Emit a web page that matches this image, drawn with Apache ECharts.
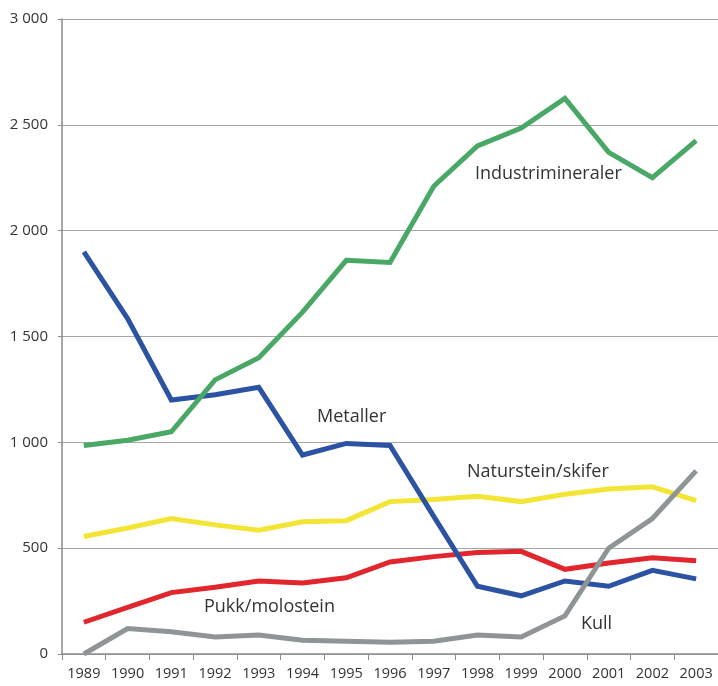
<!DOCTYPE html>
<html>
<head>
<meta charset="utf-8">
<script src="https://cdn.jsdelivr.net/npm/echarts@6/dist/echarts.min.js"></script>
<style>
  html, body { margin: 0; padding: 0; background: #fff; }
  #chart { width: 718px; height: 686px; }
</style>
</head>
<body>
<div id="chart"></div>
<script>
// år
const years = ['1989', '1990', '1991', '1992', '1993', '1994', '1995', '1996',
  '1997', '1998', '1999', '2000', '2001', '2002', '2003']

// verdier per gruppe
const industrimineraler = [985, 1010, 1050, 1295, 1400, 1615, 1860, 1850, 2210, 2400, 2485, 2625, 2370, 2250, 2425]
const metaller = [1900, 1585, 1200, 1225, 1260, 940, 995, 985, 650, 320, 275, 345, 320, 395, 355]
const naturstein = [555, 595, 640, 610, 585, 625, 630, 720, 730, 745, 720, 755, 780, 790, 725]
const pukk = [150, 220, 290, 315, 345, 335, 360, 435, 460, 480, 485, 400, 430, 455, 440]
const kull = [0, 120, 105, 80, 90, 65, 60, 55, 60, 90, 80, 180, 500, 640, 865]

const yTicks = [0, 500, 1000, 1500, 2000, 2500, 3000]

const font = '"Open Sans", "Noto Sans", sans-serif'

const lineSeries = (name, data, color) => ({
  name,
  type: 'line',
  data,
  symbol: 'none',
  lineStyle: { color, width: 5, join: 'miter' },
  itemStyle: { color },
  animation: false
})

// etiketter i plottet
const label = (text, x, y) => ({
  type: 'text',
  x,
  y,
  style: { text, fill: '#333', font: '18px ' + font, verticalAlign: 'middle' }
})

const chart = echarts.init(document.getElementById('chart'))

chart.setOption({
  animation: false,
  grid: { left: 62, top: 19, width: 660, bottom: 32 },
  xAxis: {
    type: 'category',
    data: years,
    boundaryGap: true,
    axisLine: { lineStyle: { color: '#8c8c8c', width: 1.5 } },
    axisTick: { show: true, length: 6, lineStyle: { color: '#8c8c8c' } },
    axisLabel: { color: '#333', fontSize: 14.5, fontFamily: font, margin: 12 }
  },
  yAxis: {
    type: 'value',
    min: yTicks[0],
    max: yTicks[yTicks.length - 1],
    interval: 500,
    axisLine: { show: true, lineStyle: { color: '#8c8c8c', width: 1.5 } },
    axisTick: { show: true, length: 4, lineStyle: { color: '#8c8c8c' } },
    splitLine: { lineStyle: { color: '#a6a6a6', width: 1 } },
    axisLabel: {
      color: '#333',
      fontSize: 15,
      fontFamily: font,
      margin: 14,
      formatter: v => String(v).replace(/\B(?=(\d{3})+(?!\d))/g, ' ')
    }
  },
  series: [
    lineSeries('Naturstein/skifer', naturstein, '#f3e535'),
    lineSeries('Pukk/molostein', pukk, '#e1262d'),
    lineSeries('Metaller', metaller, '#2c53a3'),
    lineSeries('Industrimineraler', industrimineraler, '#4aa866'),
    lineSeries('Kull', kull, '#8f9497')
  ],
  graphic: [
    label('Industrimineraler', 475, 174),
    label('Metaller', 317, 417),
    label('Naturstein/skifer', 467, 472),
    label('Pukk/molostein', 204, 607),
    label('Kull', 581, 624)
  ]
})
</script>
</body>
</html>
